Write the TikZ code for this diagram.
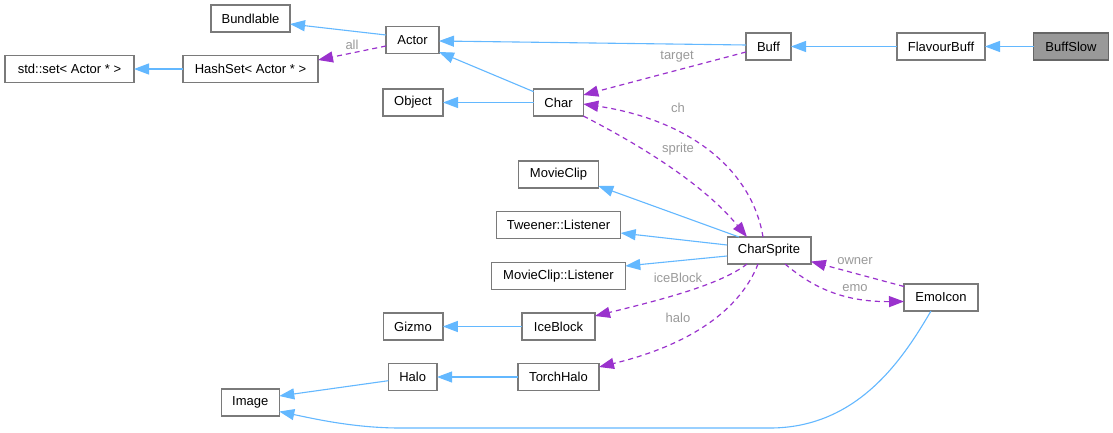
\documentclass[tikz,border=0pt]{standalone}
\usepackage{fontspec}
\setmainfont{Liberation Sans}
\usetikzlibrary{arrows.meta}
\definecolor{boxgray}{HTML}{7A7A7A}
\definecolor{darkgray}{HTML}{666666}
\definecolor{selgray}{HTML}{999999}
\definecolor{inheritblue}{HTML}{63B8FF}
\definecolor{memberpurple}{HTML}{9A32CD}
\definecolor{labelgray}{HTML}{9A9A9A}
\begin{document}
\begin{tikzpicture}[x=1pt,y=-1pt,inner sep=0pt,outer sep=0pt,
classbox/.style={draw=boxgray,fill=white,rectangle,line width=1.3pt,minimum height=27pt,font=\fontsize{13}{15}\selectfont},
inherit/.style={draw=inheritblue,line width=1.1pt,-{Triangle[length=15pt,width=11pt]}},
member/.style={draw=memberpurple,line width=1.2pt,dash pattern=on 5pt off 4pt,-{Triangle[length=15pt,width=11pt]}},
edgelabel/.style={text=labelgray,font=\fontsize{13}{15}\selectfont}]
\fill[white] (0,0) rectangle (1113,433);
\useasboundingbox (0,0) rectangle (1113,433);
% classes
\draw (250.5,18.5) node[classbox,minimum width=79pt] (bundlable) {Bundlable};
\draw (412.5,40) node[classbox,minimum width=53pt] (actor) {Actor};
\draw (69.5,69) node[classbox,minimum width=129pt] (stdset) {std::set< Actor * >};
\draw (250.5,69) node[classbox,minimum width=135pt] (hashset) {HashSet< Actor * >};
\draw (413,102.5) node[classbox,minimum width=60pt] (object) {Object};
\draw (558.5,102.5) node[classbox,minimum width=49.6pt] (chr) {Char};
\draw (768.5,46.5) node[classbox,minimum width=45pt] (buff) {Buff};
\draw (941,46.5) node[classbox,minimum width=88pt] (flavour) {FlavourBuff};
\draw (1071,46.5) node[classbox,draw=darkgray,fill=selgray,minimum width=74.5pt] (buffslow) {BuffSlow};
\draw (558.5,174.5) node[classbox,minimum width=79.6pt] (movieclip) {MovieClip};
\draw (558.5,225) node[classbox,minimum width=124.4pt] (tweener) {Tweener::Listener};
\draw (769,250.5) node[classbox,minimum width=83.7pt] (charsprite) {CharSprite};
\draw (558.5,276) node[classbox,minimum width=133.6pt] (mclistener) {MovieClip::Listener};
\draw (941,297.5) node[classbox,minimum width=74pt] (emoicon) {EmoIcon};
\draw (413,326.5) node[classbox,minimum width=59.7pt] (gizmo) {Gizmo};
\draw (558.5,326.5) node[classbox,minimum width=73pt] (iceblock) {IceBlock};
\draw (412.7,377) node[classbox,minimum width=48.7pt] (halo) {Halo};
\draw (558.5,377) node[classbox,minimum width=81pt] (torchhalo) {TorchHalo};
\draw (250.3,402.5) node[classbox,minimum width=58pt] (image) {Image};
% inheritance
\draw[inherit] (buffslow) -- (flavour);
\draw[inherit] (flavour) -- (buff);
\draw[inherit] ([yshift=1.5pt]buff.west) -- ([yshift=-1pt]actor.east);
\draw[inherit] ([yshift=5pt]actor.west) -- ([yshift=-5.5pt]bundlable.east);
\draw[inherit] (hashset) -- (stdset);
\draw[inherit] ([yshift=-2.7pt]chr.north west) -- ([yshift=1.5pt]actor.south east);
\draw[inherit] (chr) -- (object);
\draw[inherit] ([xshift=-30pt]charsprite.north) -- ([yshift=2pt]movieclip.south east);
\draw[inherit] ([yshift=5.5pt]charsprite.west) -- ([yshift=-8pt]tweener.east);
\draw[inherit] ([yshift=-5.5pt]charsprite.west) -- ([yshift=10pt]mclistener.east);
\draw[inherit] (iceblock) -- (gizmo);
\draw[inherit] (torchhalo) -- (halo);
\draw[inherit] ([yshift=-3.7pt]halo.west) -- ([yshift=6.5pt]image.east);
\draw[inherit] ([xshift=-10pt]emoicon.south) .. controls (905,355) and (860,428) .. (770,428)
  -- (400,428) .. controls (355,428) and (315,419) .. ([yshift=-9pt]image.east);
% members
\draw[member] ([yshift=-6pt]actor.west) -- ([yshift=9pt]hashset.east);
\draw[member] ([yshift=-5.5pt]buff.west) -- ([yshift=7.5pt]chr.east);
\draw[member] ([xshift=-6pt]charsprite.north) .. controls (752,170) and (690,120) .. ([yshift=-1.5pt]chr.east);
\draw[member] (chr.south east) .. controls (630,140) and (700,180) .. ([xshift=-22pt]charsprite.north);
\draw[member] ([xshift=-22pt]charsprite.south) .. controls (720,285) and (660,300) .. ([yshift=10.5pt]iceblock.east);
\draw[member] ([xshift=-11pt]charsprite.south) .. controls (740,310) and (690,345) .. ([yshift=10pt]torchhalo.east);
\draw[member] ([xshift=16pt]charsprite.south) .. controls (810,285) and (840,302) .. ([yshift=-4pt]emoicon.west);
\draw[member] ([yshift=11pt]emoicon.west) -- ([yshift=-11pt]charsprite.east);
% member labels
\node[edgelabel] (lall) at (352,45) {all};
\node[edgelabel] (ltarget) at (677,57) {target};
\node[edgelabel] (lch) at (678,108) {ch};
\node[edgelabel] (lsprite) at (678,149) {sprite};
\node[edgelabel] (liceblock) at (678,278) {iceBlock};
\node[edgelabel] (lhalo) at (678,318) {halo};
\node[edgelabel] (lowner) at (855,261) {owner};
\node[edgelabel] (lemo) at (855,288) {emo};
\end{tikzpicture}
\end{document}
